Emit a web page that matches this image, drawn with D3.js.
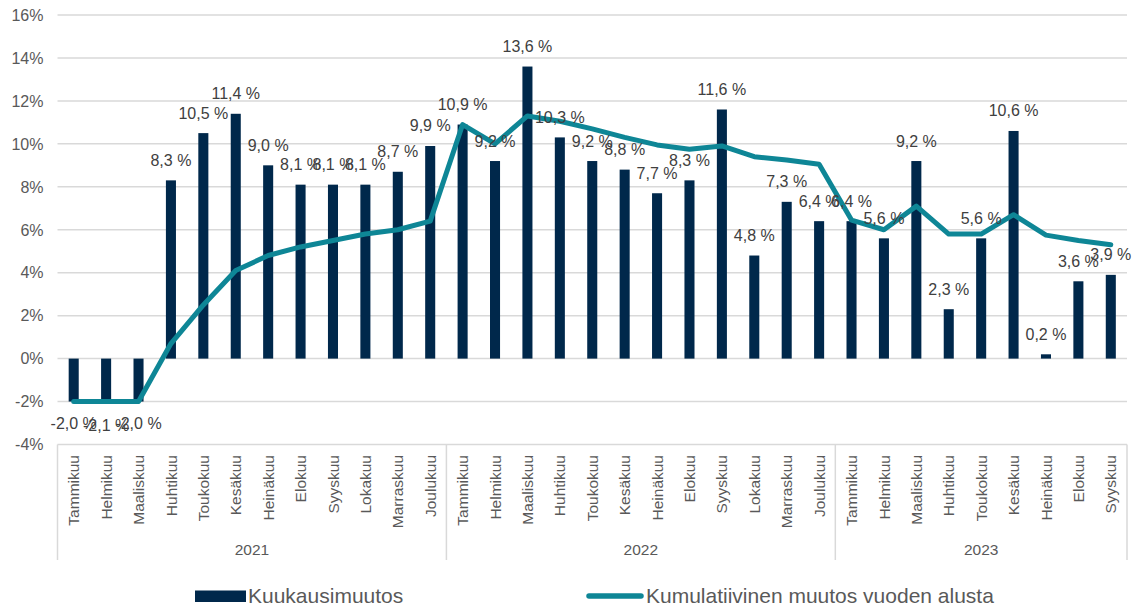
<!DOCTYPE html>
<html>
<head>
<meta charset="utf-8">
<script src="https://cdn.jsdelivr.net/npm/d3@7"></script>
<style>
  body { margin: 0; background: #fff; }
  text { font-family: "Liberation Sans", Arial, sans-serif; }
</style>
</head>
<body>
<svg id="chart" width="1135" height="606"></svg>
<script>
// Data
const years = ["2021", "2022", "2023"];
const months = ["Tammikuu", "Helmikuu", "Maaliskuu", "Huhtikuu", "Toukokuu", "Kesäkuu",
  "Heinäkuu", "Elokuu", "Syyskuu", "Lokakuu", "Marraskuu", "Joulukuu"];
const monthsPerYear = [12, 12, 9];

// Kuukausimuutos (%)
const monthly = [
  -2.0, -2.1, -2.0, 8.3, 10.5, 11.4, 9.0, 8.1, 8.1, 8.1, 8.7, 9.9,
  10.9, 9.2, 13.6, 10.3, 9.2, 8.8, 7.7, 8.3, 11.6, 4.8, 7.3, 6.4,
  6.4, 5.6, 9.2, 2.3, 5.6, 10.6, 0.2, 3.6, 3.9
];
// Kumulatiivinen muutos vuoden alusta (%)
const cumulative = [
  -2.0, -2.0, -2.0, 0.7, 2.5, 4.1, 4.8, 5.2, 5.5, 5.8, 6.0, 6.4,
  10.9, 10.0, 11.3, 11.05, 10.7, 10.3, 9.95, 9.75, 9.9, 9.4, 9.25, 9.05,
  6.45, 6.0, 7.1, 5.8, 5.8, 6.7, 5.75, 5.5, 5.3
];
const yTicks = [-4, -2, 0, 2, 4, 6, 8, 10, 12, 14, 16];

const barColor = "#00284b";
const lineColor = "#0e8696";
const gridColor = "#d9d9d9";

// build category list
let cats = [];
years.forEach((yr, i) => {
  for (let m = 0; m < monthsPerYear[i]; m++) {
    cats.push({ id: yr + "-" + m, year: yr, month: months[m] });
  }
});

const svg = d3.select("#chart");
const plotLeft = 57.5, plotRight = 1127, plotTop = 15, plotBottom = 444.5;

const x = d3.scaleBand()
  .domain(cats.map(d => d.id))
  .range([plotLeft, plotRight])
  .paddingInner(0.69)
  .paddingOuter(0.345);

const y = d3.scaleLinear().domain([-4, 16]).range([plotBottom, plotTop]);

// gridlines
svg.append("g")
  .selectAll("line")
  .data(yTicks)
  .enter().append("line")
  .attr("x1", plotLeft).attr("x2", plotRight)
  .attr("y1", d => y(d)).attr("y2", d => y(d))
  .attr("stroke", gridColor)
  .attr("stroke-width", 1.5);

// y tick labels
svg.append("g")
  .selectAll("text")
  .data(yTicks)
  .enter().append("text")
  .attr("x", 43.5)
  .attr("y", d => y(d))
  .attr("dy", "0.36em")
  .attr("text-anchor", "end")
  .attr("font-size", 16)
  .attr("fill", "#595959")
  .text(d => d + "%");

// year separators in category axis
const step = x.step();
let seps = [0];
let acc = 0;
monthsPerYear.forEach(n => { acc += n; seps.push(acc); });
svg.append("g")
  .selectAll("line")
  .data(seps)
  .enter().append("line")
  .attr("x1", d => plotLeft + d * step).attr("x2", d => plotLeft + d * step)
  .attr("y1", plotBottom).attr("y2", 560)
  .attr("stroke", gridColor)
  .attr("stroke-width", 1.5);

// bars
svg.append("g")
  .selectAll("rect")
  .data(monthly)
  .enter().append("rect")
  .attr("x", (d, i) => x(cats[i].id))
  .attr("width", x.bandwidth())
  .attr("y", d => y(Math.max(0, d)))
  .attr("height", d => Math.abs(y(d) - y(0)))
  .attr("fill", barColor);

// cumulative line
const line = d3.line()
  .x((d, i) => x(cats[i].id) + x.bandwidth() / 2)
  .y(d => y(d));

svg.append("path")
  .datum(cumulative)
  .attr("d", line)
  .attr("fill", "none")
  .attr("stroke", lineColor)
  .attr("stroke-width", 5)
  .attr("stroke-linejoin", "round")
  .attr("stroke-linecap", "round");

// bar labels
const fmt = v => v.toFixed(1).replace(".", ",") + " %";
svg.append("g")
  .selectAll("text")
  .data(monthly)
  .enter().append("text")
  .attr("x", (d, i) => x(cats[i].id) + x.bandwidth() / 2)
  .attr("y", d => d >= 0 ? y(d) - 14.5 : y(d) + 27.5)
  .attr("text-anchor", "middle")
  .attr("font-size", 16)
  .attr("fill", "#404040")
  .text(d => fmt(d));

// month labels (rotated)
svg.append("g")
  .selectAll("text")
  .data(cats)
  .enter().append("text")
  .attr("transform", d => `translate(${x(d.id) + x.bandwidth() / 2},455) rotate(-90)`)
  .attr("dy", "0.36em")
  .attr("text-anchor", "end")
  .attr("font-size", 15.5)
  .attr("fill", "#595959")
  .text(d => d.month);

// year labels
svg.append("g")
  .selectAll("text")
  .data(years)
  .enter().append("text")
  .attr("x", (d, i) => plotLeft + (seps[i] + seps[i + 1]) / 2 * step)
  .attr("y", 555)
  .attr("text-anchor", "middle")
  .attr("font-size", 15.5)
  .attr("fill", "#595959")
  .text(d => d);

// legend
const legend = svg.append("g");
legend.append("rect")
  .attr("x", 195).attr("y", 590.5)
  .attr("width", 51).attr("height", 11.5)
  .attr("fill", barColor);
legend.append("text")
  .attr("x", 248).attr("y", 602.5)
  .attr("font-size", 21)
  .attr("fill", "#595959")
  .text("Kuukausimuutos");

legend.append("line")
  .attr("x1", 589).attr("x2", 641)
  .attr("y1", 596).attr("y2", 596)
  .attr("stroke", lineColor)
  .attr("stroke-width", 5.5)
  .attr("stroke-linecap", "round");
legend.append("text")
  .attr("x", 646).attr("y", 602.5)
  .attr("font-size", 21)
  .attr("fill", "#595959")
  .text("Kumulatiivinen muutos vuoden alusta");
</script>
</body>
</html>
